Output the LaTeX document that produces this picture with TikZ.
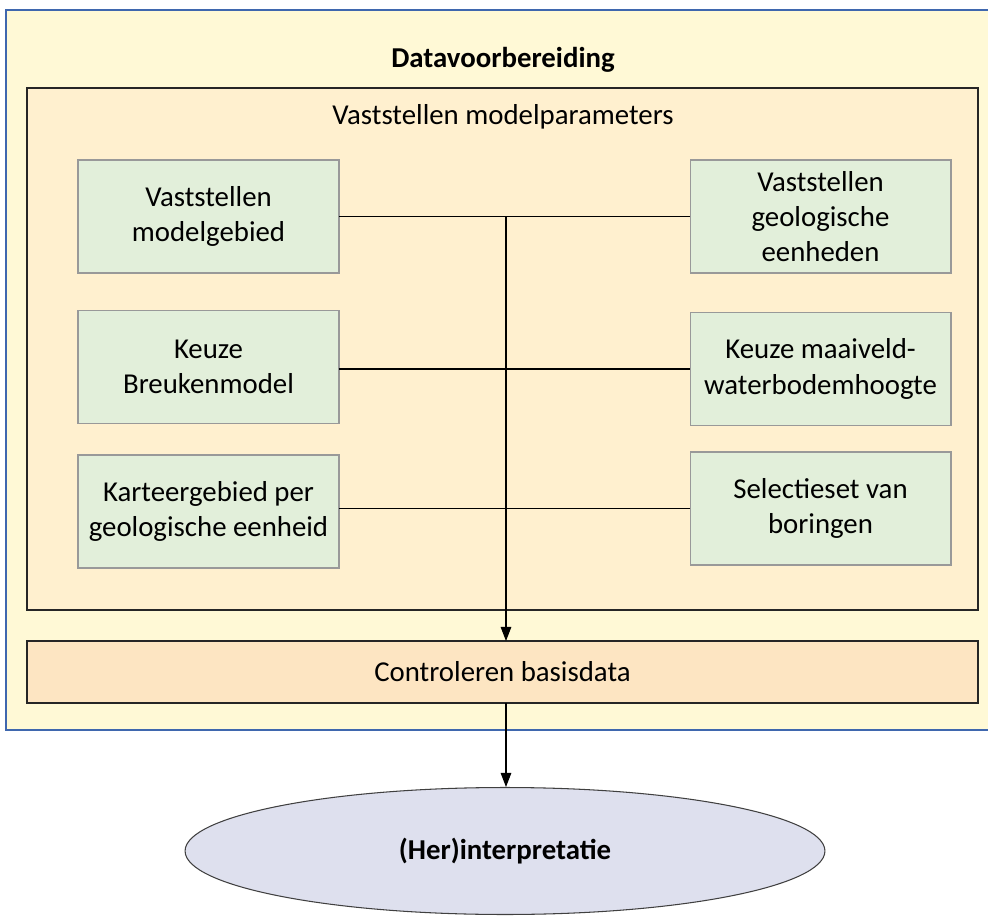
\documentclass[tikz,border=0pt]{standalone}
\usepackage{fontspec}
\setmainfont{Carlito}
\usepackage{tikz}
\usetikzlibrary{positioning, arrows.meta, shapes.geometric, calc}

\definecolor{frameblue}{HTML}{3F67AE}
\definecolor{outerfill}{HTML}{FFF9D6}
\definecolor{panelfill}{HTML}{FFF0CF}
\definecolor{stepfill}{HTML}{E2EFDA}
\definecolor{checkfill}{HTML}{FDE5C2}
\definecolor{ovalfill}{HTML}{DEE0EE}

\begin{document}
\begin{tikzpicture}[
  x=0.02cm, y=-0.02cm,
  txt/.style={font=\fontsize{16.4}{20}\selectfont, align=center},
  panel/.style={draw=black!85, line width=0.7pt, fill=panelfill, inner sep=0pt, outer sep=0pt},
  stepbox/.style={txt, draw=black!40, line width=0.6pt, fill=stepfill, inner sep=0pt, outer sep=0pt,
                  minimum width=5.22cm, minimum height=2.26cm},
  oval/.style={ellipse, draw=black!75, line width=0.6pt, fill=ovalfill, inner sep=0pt,
               minimum width=12.8cm, minimum height=2.54cm, font=\fontsize{16.4}{20}\selectfont\bfseries},
  link/.style={black, line width=0.6pt},
  flow/.style={black, line width=0.6pt, -{Triangle[width=6pt,length=8pt]}},
]
  \useasboundingbox (0,0) rectangle (988,916);

  % Datavoorbereiding frame (runs off to the right)
  \draw[frameblue, line width=1.2pt, fill=outerfill] (6,10) rectangle (1010,730);
  \node[txt, font=\fontsize{16.4}{20}\selectfont\bfseries] (title) at (503,60) {Datavoorbereiding};

  % Vaststellen modelparameters
  \node[panel, minimum width=19.02cm, minimum height=10.44cm] (params) at (502.5,349) {};
  \node[txt] (paramtitle) at (503,117) {Vaststellen modelparameters};

  % Left column
  \node[stepbox] (l1) at (208.5,216.5) {Vaststellen\\modelgebied};
  \node[stepbox] (l2) at (208.5,367) {Keuze\\Breukenmodel};
  \node[stepbox] (l3) at (208.5,511.5) {Karteergebied per\\geologische eenheid};

  % Right column
  \node[stepbox] (r1) at (820.5,216.5) {Vaststellen\\geologische\\eenheden};
  \node[stepbox] (r2) at (820.5,369) {Keuze maaiveld-\\waterbodemhoogte};
  \node[stepbox] (r3) at (820.5,508.5) {Selectieset van\\boringen};

  % Controleren basisdata
  \node[panel, txt, fill=checkfill, minimum width=19.02cm, minimum height=1.24cm] (check) at (502.5,672) {Controleren basisdata};

  % (Her)interpretatie
  \node[oval] (herint) at (505,851) {(Her)interpretatie};

  % Connectors
  \draw[link] (l1.east) -- (l1.east -| r1.west);
  \draw[link] (l2.east |- r2.west) -- (r2.west);
  \draw[link] (l3.east |- r3.west) -- (r3.west);
  \coordinate (spine) at (506,216.5);
  \draw[flow] (spine) -- (spine |- check.north);
  \draw[flow] (check.south -| spine) -- (herint.north -| spine);

\end{tikzpicture}
\end{document}
